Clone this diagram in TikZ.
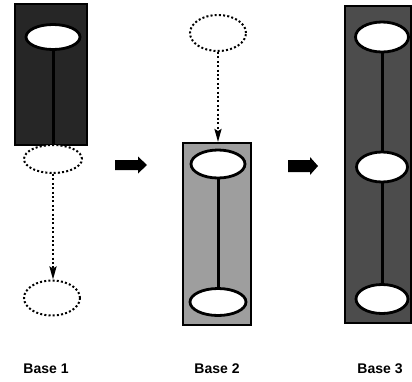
\documentclass[tikz,border=0pt]{standalone}
\usepackage{fontspec}
\setmainfont{Liberation Sans}
\usetikzlibrary{arrows.meta,shapes.geometric}
\begin{document}
\begin{tikzpicture}[x=1pt,y=-1pt,
  base/.style={draw=black,line width=1.2pt},
  darkbox/.style={base,fill=black!85},
  midbox/.style={base,fill=black!70},
  lightbox/.style={base,fill=black!38},
  solidell/.style={ellipse,draw=black,line width=2.8pt,fill=white,inner sep=0pt},
  dotell/.style={ellipse,draw=black,line width=2pt,dash pattern=on 2pt off 2.2pt,fill=white,inner sep=0pt},
  link/.style={draw=black,line width=3pt},
  dotlink/.style={draw=black,line width=2pt,dash pattern=on 2pt off 2.4pt,-{Stealth[length=13pt,width=7pt,inset=2pt]}},
  fat/.style={fill=black},
  lab/.style={font=\fontsize{14}{16}\selectfont\bfseries}
]
\useasboundingbox (0,0) rectangle (412,381);
\fill[white] (0,0) rectangle (412,381);

% column 1
\draw[darkbox] (15,4) rectangle (87,145);
\node[solidell,minimum width=54pt,minimum height=25pt] (a1) at (53,37) {};
\node[dotell,minimum width=58pt,minimum height=28pt] (a2) at (53,159) {};
\node[dotell,minimum width=56pt,minimum height=35pt] (a3) at (52,298) {};
\draw[link] (a1.south) -- (a2.north);
\draw[dotlink] (a2.south) -- (a3.north -| a2.south);
\node[lab] (l1) at (46,369) {Base 1};

% arrow 1
\fill[fat] (115,160) -- (138,160) -- (138,156.5) -- (147,165) -- (138,173.5) -- (138,170) -- (115,170) -- cycle;

% column 2
\node[dotell,minimum width=56pt,minimum height=36pt] (b0) at (218,33) {};
\draw[lightbox] (183,143) rectangle (251,325);
\node[solidell,minimum width=54pt,minimum height=28pt] (b1) at (218,164) {};
\node[solidell,minimum width=56pt,minimum height=27pt] (b2) at (218,302) {};
\coordinate (b1top) at (218,142);
\draw[dotlink] (b0.south) -- (b1top);
\draw[link] (b1.south) -- (b2.north);
\node[lab] (l2) at (217,369) {Base 2};

% arrow 2
\fill[fat] (288,160) -- (310,160) -- (310,157) -- (318,166) -- (310,175) -- (310,172) -- (288,172) -- cycle;

% column 3
\draw[midbox] (345,6) rectangle (411,323);
\node[solidell,minimum width=53pt,minimum height=30pt] (c1) at (382,37) {};
\node[solidell,minimum width=51pt,minimum height=30pt] (c2) at (382,167) {};
\node[solidell,minimum width=52pt,minimum height=29pt] (c3) at (382,299) {};
\draw[link] (c1.south) -- (c2.north);
\draw[link] (c2.south) -- (c3.north);
\node[lab] (l3) at (380,369) {Base 3};
\end{tikzpicture}
\end{document}
